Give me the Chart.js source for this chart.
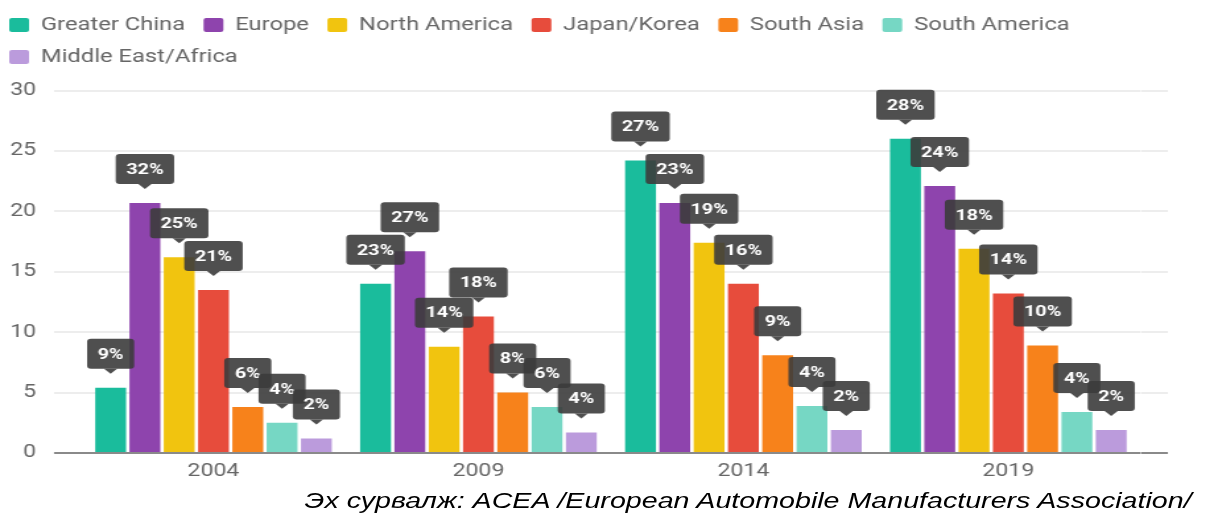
<!DOCTYPE html>
<html>
<head>
<meta charset="utf-8">
<script src="https://cdn.jsdelivr.net/npm/chart.js@4/dist/chart.umd.min.js"></script>
<style>
    html, body { margin: 0; padding: 0; background: #fff; overflow: hidden; }
    /* the original picture is stretched sideways, so the whole chart is drawn narrow and widened */
    #wrap { position: relative; width: 923px; height: 516px; transform: scaleX(1.3196); transform-origin: 0 0; }
    #chartBox { position: absolute; left: 0; top: 0; width: 923px; height: 516px; }
    #source { position: absolute; right: 20px; top: 490px; font: italic 21.7px "Liberation Sans", Arial, sans-serif; line-height: 22px; color: #000; white-space: nowrap; }
</style>
</head>
<body>
<div id="wrap">
    <div id="chartBox"><canvas id="barChart"></canvas></div>
    <div id="source">Эх сурвалж: ACEA /European Automobile Manufacturers Association/</div>
</div>
<script>
const years = ['2004', '2009', '2014', '2019'];
const regions = ['Greater China', 'Europe', 'North America', 'Japan/Korea', 'South Asia', 'South America', 'Middle East/Africa'];
const colors = ['#1abc9c', '#8e44ad', '#f1c40f', '#e74c3c', '#f7821b', '#76d7c4', '#bb9bdc'];

// bar heights
const greaterChina = [5.4, 14.0, 24.2, 26.0];
const europe = [20.7, 16.7, 20.7, 22.1];
const northAmerica = [16.2, 8.8, 17.4, 16.9];
const japanKorea = [13.5, 11.3, 14.0, 13.2];
const southAsia = [3.8, 5.0, 8.1, 8.9];
const southAmerica = [2.5, 3.8, 3.9, 3.4];
const middleEastAfrica = [1.2, 1.7, 1.9, 1.9];

// share labels shown above the bars (%)
const greaterChinaPct = [9, 23, 27, 28];
const europePct = [32, 27, 23, 24];
const northAmericaPct = [25, 14, 19, 18];
const japanKoreaPct = [21, 18, 16, 14];
const southAsiaPct = [6, 8, 9, 10];
const southAmericaPct = [4, 6, 4, 4];
const middleEastAfricaPct = [2, 4, 2, 2];

const yTicks = [0, 5, 10, 15, 20, 25, 30];

const values = [greaterChina, europe, northAmerica, japanKorea, southAsia, southAmerica, middleEastAfrica];
const pcts = [greaterChinaPct, europePct, northAmericaPct, japanKoreaPct, southAsiaPct, southAmericaPct, middleEastAfricaPct];

const gridColor = (c) => c.tick && c.tick.value === 0 ? '#8a8a8a' : '#ededed';

// extra room under the legend
const legendMargin = {
    id: 'legendMargin',
    beforeInit(chart) {
        const fit = chart.legend.fit;
        chart.legend.fit = function() {
            fit.bind(chart.legend)();
            this.height = 88.5;
        };
    }
};

// dark callout boxes with the share above every bar
const shareLabels = {
    id: 'shareLabels',
    afterDatasetsDraw(chart) {
        const ctx = chart.ctx;
        ctx.save();
        ctx.font = 'bold 15px Roboto';
        ctx.textAlign = 'center';
        ctx.textBaseline = 'middle';
        chart.data.datasets.forEach((ds, i) => {
            chart.getDatasetMeta(i).data.forEach((bar, j) => {
                const text = pcts[i][j] + '%';
                const w = ctx.measureText(text).width + 16;
                const h = 30;
                const bottom = bar.y - 19;
                ctx.fillStyle = 'rgba(60,60,60,0.9)';
                ctx.beginPath();
                ctx.roundRect(bar.x - w / 2, bottom - h, w, h, 3);
                ctx.fill();
                ctx.beginPath();
                ctx.moveTo(bar.x - 5, bottom);
                ctx.lineTo(bar.x + 5, bottom);
                ctx.lineTo(bar.x, bottom + 5);
                ctx.closePath();
                ctx.fill();
                ctx.fillStyle = '#fff';
                ctx.fillText(text, bar.x, bottom - h / 2 + 1);
            });
        });
        ctx.restore();
    }
};

new Chart(document.getElementById('barChart'), {
    type: 'bar',
    data: {
        labels: years,
        datasets: regions.map((name, i) => ({
            label: name,
            data: values[i],
            backgroundColor: colors[i],
            borderWidth: 0,
            categoryPercentage: 0.906,
            barPercentage: 0.9
        }))
    },
    options: {
        responsive: true,
        maintainAspectRatio: false,
        animation: false,
        layout: { padding: { left: -7, right: 38, top: 2, bottom: 26 } },
        plugins: {
            tooltip: { enabled: false },
            legend: {
                position: 'top',
                align: 'start',
                labels: {
                    boxWidth: 15,
                    boxHeight: 14,
                    useBorderRadius: true,
                    borderRadius: 2,
                    padding: 14,
                    color: '#666',
                    font: { family: 'Roboto', size: 18 }
                }
            }
        },
        scales: {
            x: {
                grid: { display: false, drawTicks: false },
                border: { display: false },
                ticks: { color: '#666', padding: 8, font: { family: 'Roboto', size: 17.5 } }
            },
            y: {
                min: 0,
                max: 30,
                afterBuildTicks: (scale) => { scale.ticks = yTicks.map(v => ({ value: v })); },
                afterFit: (scale) => { scale.width = 68.4; },
                grid: { color: gridColor, lineWidth: 2, drawTicks: true, tickLength: 20.5 },
                border: { display: false },
                ticks: { color: '#666', padding: 13.6, font: { family: 'Roboto', size: 17.5 } }
            },
            yRight: {
                position: 'right',
                min: 0,
                max: 30,
                afterBuildTicks: (scale) => { scale.ticks = yTicks.map(v => ({ value: v })); },
                grid: { color: gridColor, lineWidth: 2, drawOnChartArea: false, drawTicks: true, tickLength: 20.5 },
                border: { display: false },
                ticks: { display: false }
            }
        }
    },
    plugins: [legendMargin, shareLabels]
});
</script>
</body>
</html>
